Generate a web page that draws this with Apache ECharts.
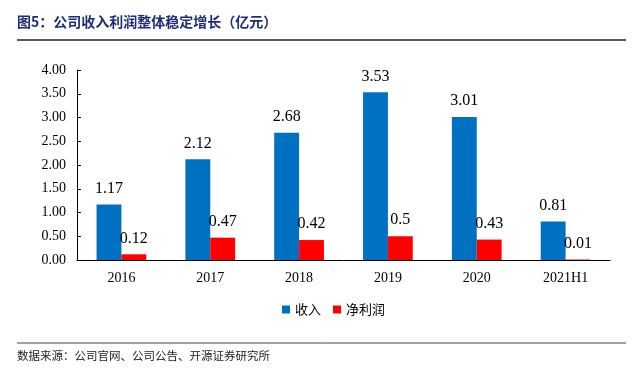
<!DOCTYPE html>
<html>
<head>
<meta charset="utf-8">
<script src="https://cdn.jsdelivr.net/npm/echarts@6/dist/echarts.min.js"></script>
<style>
  html, body { margin: 0; padding: 0; background: #fff; }
  #main { width: 643px; height: 376px; }
</style>
</head>
<body>
<div id="main"></div>
<script>
// 年份
const years = ['2016', '2017', '2018', '2019', '2020', '2021H1']
// 收入（亿元）
const revenue = [1.17, 2.12, 2.68, 3.53, 3.01, 0.81]
// 净利润（亿元）
const profit = [0.12, 0.47, 0.42, 0.5, 0.43, 0.01]
const yTicks = ['0.00', '0.50', '1.00', '1.50', '2.00', '2.50', '3.00', '3.50', '4.00']

const serif = '"Liberation Serif", "Times New Roman", serif'
const cjk = '"Noto Sans CJK SC", sans-serif'

const chart = echarts.init(document.getElementById('main'))
chart.setOption({
  animation: false,
  backgroundColor: '#fff',
  grid: { left: 77, right: 33, top: 70, bottom: 116 },
  legend: {
    data: ['收入', '净利润'],
    top: 298,
    left: 277,
    itemWidth: 8,
    itemHeight: 8,
    itemGap: 12,
    icon: 'rect',
    textStyle: { fontFamily: cjk, fontSize: 13, color: '#000' }
  },
  xAxis: {
    type: 'category',
    data: years,
    axisLine: { lineStyle: { color: '#000', width: 1 } },
    axisTick: { inside: true, length: 4, lineStyle: { color: '#000' } },
    axisLabel: { color: '#000', fontFamily: serif, fontSize: 14, margin: 11 }
  },
  yAxis: {
    type: 'value',
    min: 0,
    max: 4,
    interval: 0.5,
    axisLine: { show: true, lineStyle: { color: '#000', width: 1 } },
    axisTick: { show: true, inside: true, length: 4, lineStyle: { color: '#000' } },
    splitLine: { show: false },
    axisLabel: {
      color: '#000', fontFamily: serif, fontSize: 14, margin: 11,
      formatter: v => yTicks[Math.round(v / 0.5)]
    }
  },
  series: [
    {
      name: '收入',
      type: 'bar',
      data: revenue,
      barGap: '0%',
      barCategoryGap: '44%',
      itemStyle: { color: '#0070C0' },
      label: { show: true, position: 'top', distance: 8, color: '#000', fontFamily: serif, fontSize: 16 }
    },
    {
      name: '净利润',
      type: 'bar',
      data: profit,
      itemStyle: { color: '#FF0000' },
      label: { show: true, position: 'top', distance: 8, color: '#000', fontFamily: serif, fontSize: 16 }
    }
  ],
  graphic: [
    {
      type: 'text', left: 17, top: 15,
      style: { text: '图5：公司收入利润整体稳定增长（亿元）', fill: '#1F2D7B', font: 'bold 14px ' + cjk }
    },
    {
      type: 'line', shape: { x1: 17, y1: 40, x2: 626, y2: 40 },
      style: { stroke: '#222', lineWidth: 1.5 }
    },
    {
      type: 'line', shape: { x1: 17, y1: 343, x2: 626, y2: 343 },
      style: { stroke: '#444', lineWidth: 1 }
    },
    {
      type: 'text', left: 17, top: 350,
      style: { text: '数据来源：公司官网、公司公告、开源证券研究所', fill: '#222', font: '11.5px ' + cjk }
    }
  ]
})
</script>
</body>
</html>
